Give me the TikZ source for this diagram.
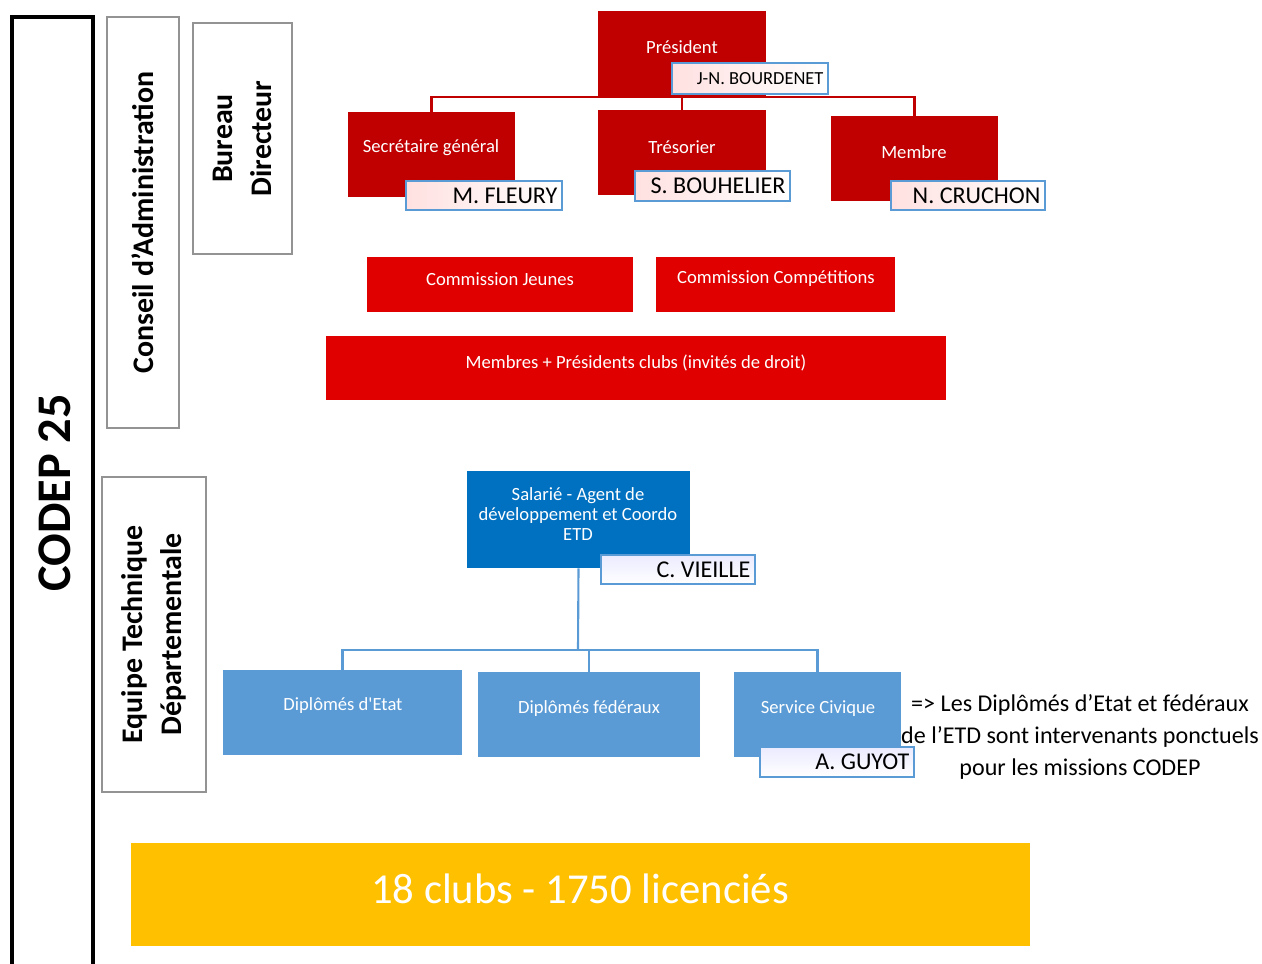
\documentclass[tikz,border=0pt]{standalone}
\usepackage{fontspec}
\setmainfont{Carlito}[Ligatures=TeXOff]
\usetikzlibrary{fit}
\definecolor{codepred}{HTML}{C00000}
\definecolor{comred}{HTML}{E00000}
\definecolor{etdblue}{HTML}{0070C0}
\definecolor{diplblue}{HTML}{5B9BD5}
\definecolor{clubsyellow}{HTML}{FFC000}
\begin{document}
\begin{tikzpicture}[x=0.02cm,y=-0.02cm]
\tikzstyle{every node}+=[inner sep=0pt]
\tikzstyle{frame}=[draw=gray!85,line width=1.2pt]
\tikzstyle{bureau}=[fill=codepred,text=white,font=\fontsize{10.6}{12}\selectfont]
\tikzstyle{commission}=[fill=comred,text=white,font=\fontsize{10.6}{12}\selectfont]
\tikzstyle{salarie}=[fill=etdblue,text=white,align=center,font=\fontsize{10.6}{11.6}\selectfont]
\tikzstyle{diplome}=[fill=diplblue,text=white,font=\fontsize{10.6}{12}\selectfont]
\tikzstyle{namebox}=[draw=diplblue,line width=1.2pt,fill=white]
\tikzstyle{redline}=[codepred,line width=1.2pt]
\tikzstyle{blueline}=[diplblue,line width=1.2pt]
\useasboundingbox (0,0) rectangle (1262,964);
% cadres de gauche
\node [draw=black,line width=1.8pt,fit={(12,17) (93,1000)}] (codep) {};
\node [rotate=90,font=\fontsize{27.5}{30}\selectfont\bfseries] at (55,493) {CODEP 25};
\node [frame,fit={(107,17) (179,428)}] (ca) {};
\node [rotate=90,font=\fontsize{17}{20}\selectfont\bfseries] at (ca.center) {Conseil d’Administration};
\node [frame,fit={(193,23) (292,254)}] (bd) {};
\node [rotate=90,align=center,font=\fontsize{17}{22}\selectfont\bfseries] at (bd.center) {Bureau\\Directeur};
\node [frame,fit={(102,477) (206,792)}] (etd) {};
\node [rotate=90,align=center,font=\fontsize{17}{22}\selectfont\bfseries] at (etd.center) {Equipe Technique\\Départementale};
% bureau directeur
\node [bureau,fit={(598,11) (766,97)}] (pres) {};
\node [bureau] at (682,47) {Président};
\node [bureau,fit={(348,112) (515,197)}] (sec) {};
\node [bureau] at (431,148) {Secrétaire général};
\node [bureau,fit={(598,110) (766,195)}] (tres) {};
\node [bureau] at (682,147) {Trésorier};
\node [bureau,fit={(831,116) (998,201)}] (memb) {};
\node [bureau] at (914,152) {Membre};
\draw [redline] (sec.north) |- (pres.south);
\draw [redline] (memb.north) |- (pres.south);
\draw [redline] (tres.north) -- (pres.south);
\node [namebox,left color=red!12,right color=white,fit={(672,63) (828,94)}] (npres) {};
\node [anchor=east,font=\fontsize{10.5}{12}\selectfont] at ([xshift=-3pt]npres.east) {J-N. BOURDENET};
\node [namebox,left color=red!12,right color=white,fit={(406,181) (562,210)}] (nsec) {};
\node [anchor=east,font=\fontsize{13.7}{15}\selectfont] at ([xshift=-3pt]nsec.east) {M. FLEURY};
\node [namebox,left color=red!12,right color=white,fit={(635,171) (790,201)}] (ntres) {};
\node [anchor=east,font=\fontsize{13.7}{15}\selectfont] at ([xshift=-3pt]ntres.east) {S. BOUHELIER};
\node [namebox,left color=red!12,right color=white,fit={(891,181) (1045,210)}] (nmemb) {};
\node [anchor=east,font=\fontsize{13.7}{15}\selectfont] at ([xshift=-3pt]nmemb.east) {N. CRUCHON};
% commissions
\node [commission,fit={(367,257) (633,312)}] (cjeunes) {};
\node [commission] at (500,279) {Commission Jeunes};
\node [commission,fit={(656,257) (895,312)}] (ccomp) {};
\node [commission] at (776,279) {Commission Compétitions};
\node [commission,fit={(326,336) (946,400)}] (membres) {};
\node [commission] at (636,363) {Membres + Présidents clubs (invités de droit)};
% equipe technique
\node [salarie,fit={(467,471) (690,568)}] (sal) {};
\node [salarie] at (578,514) {Salarié - Agent de\\développement et Coordo\\ETD};
\node [diplome,fit={(223,670) (462,755)}] (detat) {};
\node [diplome] at (343,706) {Diplômés d'Etat};
\node [diplome,fit={(478,672) (700,757)}] (dfed) {};
\node [diplome] at (589,709) {Diplômés fédéraux};
\node [diplome,fit={(734,672) (901,757)}] (civ) {};
\node [diplome] at (818,709) {Service Civique};
\coordinate (etdbus) at (578,650);
\draw [blueline] (sal.south) -- (etdbus);
\draw [blueline] (detat.north) |- (etdbus);
\draw [blueline] (dfed.north) |- (etdbus);
\draw [blueline] (civ.north) |- (etdbus);
\node [namebox,top color=blue!8,bottom color=white,fit={(601,555) (755,584)}] (nsal) {};
\node [anchor=east,font=\fontsize{13.7}{15}\selectfont] at ([xshift=-3pt]nsal.east) {C. VIEILLE};
\node [namebox,top color=blue!8,bottom color=white,fit={(760,747) (914,777)}] (nciv) {};
\node [anchor=east,font=\fontsize{13.7}{15}\selectfont] at ([xshift=-3pt]nciv.east) {A. GUYOT};
\node [align=center,font=\fontsize{13.7}{18}\selectfont] (note) at (1080,737) {=> Les Diplômés d’Etat et fédéraux\\de l’ETD sont intervenants ponctuels\\pour les missions CODEP};
% clubs
\node [fill=clubsyellow,fit={(131,843) (1030,946)}] (clubs) {};
\node [text=white,font=\fontsize{24.3}{28}\selectfont] at (580,889) {18 clubs - 1750 licenciés};
\end{tikzpicture}
\end{document}
